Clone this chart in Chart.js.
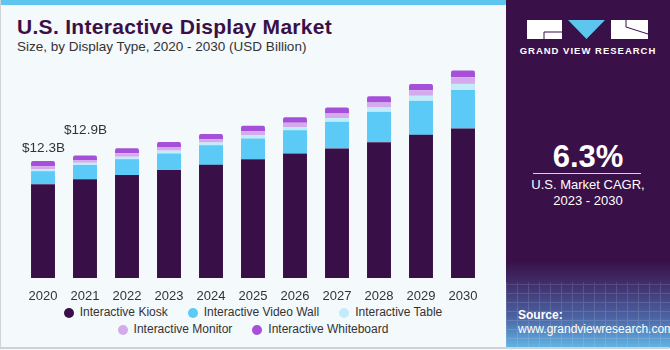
<!DOCTYPE html>
<html>
<head>
<meta charset="utf-8">
<script src="https://cdn.jsdelivr.net/npm/chart.js@4"></script>
<style>
  body { margin: 0; width: 670px; height: 350px; overflow: hidden; font-family: "Liberation Sans", Arial, sans-serif; }
  #wrap { position: relative; width: 670px; height: 350px; background: #f4f9fc; }
  #topbar { position: absolute; left: 0; top: 0; width: 506px; height: 5px; background: #5cc6ef; }
  #frame { position: absolute; left: 0; top: 0; width: 668px; height: 347px; border-left: 1px solid #cfd3d6; border-bottom: 2px solid #cfd3d6; pointer-events: none; }
  #title { position: absolute; left: 17px; top: 15px; font-size: 21px; font-weight: bold; color: #3a1048; letter-spacing: 0.3px; }
  #subtitle { position: absolute; left: 17px; top: 39px; font-size: 13.5px; color: #333; }
  #chart { position: absolute; left: 0; top: 0; }
  #legend { position: absolute; left: 0; top: 304px; width: 506px; font-size: 12px; color: #333; }
  .lrow { display: flex; justify-content: center; height: 17px; line-height: 17px; }
  .litem { display: flex; align-items: center; margin: 0 10px; }
  .ldot { width: 10px; height: 10px; border-radius: 50%; margin-right: 6px; }
  #panel { position: absolute; left: 506px; top: 0; width: 164px; height: 348px; color: #fff;
    background: linear-gradient(to bottom, #3a1048 0%, #3a1048 75%, #3f2c68 81%, #4b62a2 91%, #62b6e6 100%); overflow: hidden; }
  #grid { position: absolute; left: 0; top: 282px; width: 164px; height: 66px; opacity: 0.12;
    background-image: repeating-linear-gradient(90deg, #fff 0 1px, transparent 1px 11px), repeating-linear-gradient(0deg, #fff 0 1px, transparent 1px 9px); }
  #brand { position: absolute; left: 0; top: 45px; width: 164px; text-align: center; font-size: 9.5px; font-weight: bold; letter-spacing: 1px; }
  #cagr { position: absolute; left: 0; top: 139px; width: 164px; text-align: center; font-size: 31px; font-weight: bold; }
  #rule { position: absolute; left: 27px; top: 173px; width: 108px; height: 1px; background: #d8d0de; }
  #cagrtxt { position: absolute; left: 0; top: 177px; width: 164px; text-align: center; font-size: 13px; line-height: 16px; }
  #source { position: absolute; left: 12px; top: 308px; font-size: 12px; line-height: 14px; }
</style>
</head>
<body>
<div id="wrap">
  <div id="topbar"></div>
  <div id="title">U.S. Interactive Display Market</div>
  <div id="subtitle">Size, by Display Type, 2020 - 2030 (USD Billion)</div>
  <canvas id="chart" width="506" height="300"></canvas>
  <div id="legend"></div>
  <div id="panel">
    <div id="grid"></div>
    <svg style="position:absolute;left:21px;top:20px" width="122" height="20">
      <rect x="0" y="0" width="35" height="19" fill="#fff"/>
      <path d="M17 12 H35 M17 12 V19" stroke="#3a1048" stroke-width="1"/>
      <polygon points="41,0 78,0 59.5,19" fill="#5cc6ef"/>
      <rect x="84" y="0" width="37" height="19" fill="#fff"/>
      <path d="M99 7 L121 14 M99 7 V0" stroke="#3a1048" stroke-width="1"/>
    </svg>
    <div id="brand">GRAND VIEW RESEARCH</div>
    <div id="cagr">6.3%</div>
    <div id="rule"></div>
    <div id="cagrtxt">U.S. Market CAGR,<br>2023 - 2030</div>
    <div id="source"><b>Source:</b><br>www.grandviewresearch.com</div>
  </div>
  <div id="frame"></div>
</div>
<script>
// Datos (USD Billion)
const years = ['2020', '2021', '2022', '2023', '2024', '2025', '2026', '2027', '2028', '2029', '2030'];
const kiosk = [9.88, 10.40, 10.83, 11.36, 11.91, 12.51, 13.11, 13.64, 14.30, 15.07, 15.74];
const videoWall = [1.37, 1.50, 1.68, 1.75, 2.07, 2.18, 2.45, 2.80, 3.19, 3.58, 4.06];
const table = [0.21, 0.23, 0.25, 0.30, 0.28, 0.32, 0.30, 0.39, 0.46, 0.53, 0.63];
const monitor = [0.32, 0.27, 0.36, 0.32, 0.35, 0.45, 0.48, 0.49, 0.53, 0.60, 0.70];
const whiteboard = [0.53, 0.50, 0.53, 0.59, 0.56, 0.56, 0.57, 0.63, 0.66, 0.63, 0.70];

const seriesNames = ['Interactive Kiosk', 'Interactive Video Wall', 'Interactive Table', 'Interactive Monitor', 'Interactive Whiteboard'];
const seriesColors = ['#380f47', '#5ccaf7', '#c2ebfb', '#d4aaec', '#a650d9'];

// Etiquetas de total sobre las dos primeras barras
const totalLabels = ['$12.3B', '$12.9B'];

const seriesData = [kiosk, videoWall, table, monitor, whiteboard];

// Plugin para las etiquetas de total
const totalLabelPlugin = {
    id: 'totalLabels',
    afterDatasetsDraw(chart) {
        const ctx = chart.ctx;
        const x = chart.scales.x;
        const y = chart.scales.y;
        const lift = [13, 25];
        ctx.save();
        ctx.font = '13.5px "Liberation Sans", Arial, sans-serif';
        ctx.fillStyle = '#333';
        ctx.textAlign = 'center';
        ctx.textBaseline = 'middle';
        totalLabels.forEach((txt, i) => {
            const total = seriesData.reduce((acc, s) => acc + s[i], 0);
            ctx.fillText(txt, x.getPixelForValue(i) + 0.5, y.getPixelForValue(total) - lift[i]);
        });
        ctx.restore();
    }
};

const ctx = document.getElementById('chart').getContext('2d');
new Chart(ctx, {
    type: 'bar',
    data: {
        labels: years,
        datasets: seriesData.map((d, i) => ({
            label: seriesNames[i],
            data: d,
            backgroundColor: seriesColors[i],
            borderRadius: i === seriesData.length - 1 ? { topLeft: 2, topRight: 2, bottomLeft: 0, bottomRight: 0 } : 0,
            borderSkipped: false,
            categoryPercentage: 1,
            barPercentage: 0.57
        }))
    },
    options: {
        responsive: false,
        animation: false,
        devicePixelRatio: 1,
        layout: { padding: { top: 50, left: 22, right: 22, bottom: 0 } },
        plugins: { legend: { display: false }, tooltip: { enabled: false } },
        scales: {
            x: {
                stacked: true,
                grid: { display: false },
                border: { display: false },
                ticks: { color: '#333', font: { size: 13, family: '"Liberation Sans", Arial, sans-serif' }, padding: 3, maxRotation: 0 },
                afterFit: s => { s.height = 22; }
            },
            y: { stacked: true, display: false, min: 0, max: 24 }
        }
    },
    plugins: [totalLabelPlugin]
});

// Leyenda en HTML (dos filas)
const legend = document.getElementById('legend');
[[0, 1, 2], [3, 4]].forEach(row => {
    const div = document.createElement('div');
    div.className = 'lrow';
    row.forEach(i => {
        div.innerHTML += `<span class="litem"><span class="ldot" style="background:${seriesColors[i]}"></span>${seriesNames[i]}</span>`;
    });
    legend.appendChild(div);
});
</script>
</body>
</html>
